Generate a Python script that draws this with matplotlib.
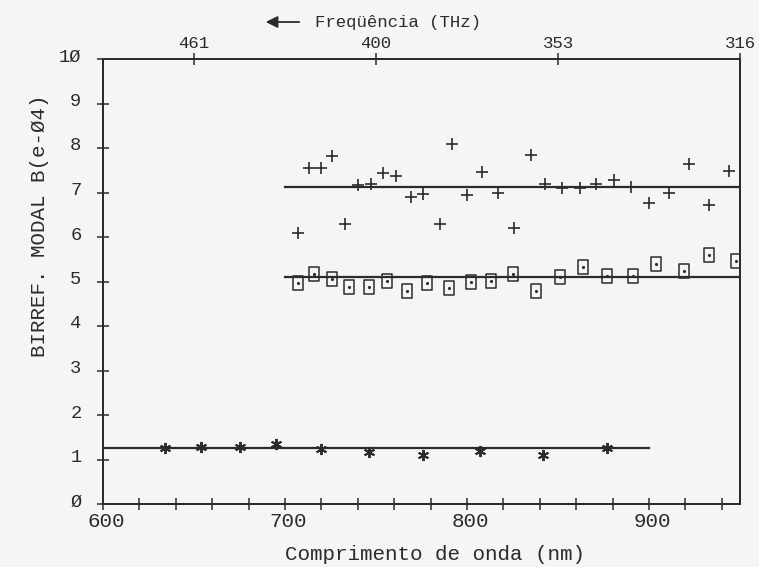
import numpy as np
import matplotlib.pyplot as plt
from matplotlib.path import Path
from matplotlib.patches import FancyArrowPatch
from matplotlib.transforms import ScaledTranslation

plt.rcParams['font.family'] = ['Liberation Mono', 'DejaVu Sans Mono']

# --- data ---
# '+' series
cross_x = [707, 713, 720, 726, 733, 740, 747, 754, 761, 769, 776, 785, 792, 800, 808,
           817, 826, 835, 843, 852, 862, 871, 881, 890, 900, 911, 922, 933, 944]
cross_y = [6.08, 7.54, 7.54, 7.82, 6.29, 7.16, 7.19, 7.44, 7.37, 6.91, 6.96, 6.29, 8.09, 6.94, 7.45,
           6.98, 6.20, 7.85, 7.19, 7.10, 7.10, 7.19, 7.27, 7.13, 6.76, 7.00, 7.64, 6.72, 7.49]

# boxed-dot series
box_x = [707, 716, 726, 735, 746, 756, 767, 778, 790, 802, 813, 825, 838, 851, 864,
         877, 891, 904, 919, 933, 948]
box_y = [4.96, 5.16, 5.06, 4.88, 4.88, 5.01, 4.79, 4.97, 4.85, 5.00, 5.01, 5.16, 4.79, 5.11, 5.33,
         5.12, 5.12, 5.39, 5.24, 5.60, 5.46]

# asterisk series
star_x = [634, 654, 675, 695, 720, 746, 776, 807, 842, 877]
star_y = [1.26, 1.28, 1.29, 1.34, 1.23, 1.16, 1.11, 1.20, 1.11, 1.26]

# mean lines
fit_level = [7.13, 5.09, 1.25]
fit_from = [700, 700, 600]
fit_to = [950, 950, 900]

ytick_vals = list(range(0, 11))
ytick_txt = ['Ø', '1', '2', '3', '4', '5', '6', '7', '8', '9', '1Ø']
xlab_vals = [600, 700, 800, 900]
top_pos = [650, 750, 850, 950]
top_txt = ['461', '400', '353', '316']

ink = '#2b2b2b'
paper = '#f5f5f3'

fig = plt.figure(figsize=(7.59, 5.67), dpi=100, facecolor=paper)
ax = fig.add_axes([103 / 759, 63 / 567, 637 / 759, 445 / 567])
ax.set_facecolor(paper)

# tall box marker
box_marker = Path([(-0.7, -1), (0.7, -1), (0.7, 1), (-0.7, 1), (-0.7, -1)],
                  [Path.MOVETO, Path.LINETO, Path.LINETO, Path.LINETO, Path.CLOSEPOLY])

for lvl, a, b in zip(fit_level, fit_from, fit_to):
    ax.plot([a, b], [lvl, lvl], color=ink, lw=1.6)

ax.plot(cross_x, cross_y, ls='none', marker='+', ms=8, mew=1.2, color=ink)
ax.plot(box_x, box_y, ls='none', marker=box_marker, ms=10, mew=1.1, mfc='none', mec=ink)
ax.plot(box_x, box_y, ls='none', marker='.', ms=2.5, color=ink)
ax.plot(star_x, star_y, ls='none', marker=(6, 2, 0), ms=8, mew=1.4, color=ink)

ax.set_xlim(600, 950)
ax.set_ylim(0, 10)

xt = np.arange(600, 941, 20)
ax.set_xticks(xt)
ax.set_xticklabels([str(v) if v in xlab_vals else '' for v in xt])
ax.set_yticks(ytick_vals)
ax.set_yticklabels(ytick_txt)

ax.tick_params(axis='x', direction='inout', length=8, width=1.1, color=ink,
               labelsize=15, labelcolor=ink, pad=2)
ax.tick_params(axis='y', direction='inout', length=9, width=1.1, color=ink,
               labelsize=13.5, labelcolor=ink, pad=11)
shift_x = ScaledTranslation(3 / 100, 0, fig.dpi_scale_trans)
for lab in ax.get_xticklabels():
    lab.set_transform(lab.get_transform() + shift_x)
shift_y = ScaledTranslation(0, 4 / 100, fig.dpi_scale_trans)
for lab in ax.get_yticklabels():
    lab.set_transform(lab.get_transform() + shift_y)
for sp in ax.spines.values():
    sp.set_color(ink)
    sp.set_linewidth(1.4)

ax2 = ax.twiny()
ax2.set_xlim(ax.get_xlim())
ax2.set_xticks(top_pos)
ax2.set_xticklabels(top_txt)
ax2.tick_params(axis='x', direction='inout', length=8, width=1.1, color=ink,
                labelsize=12.5, labelcolor=ink, pad=1.5)
for sp in ax2.spines.values():
    sp.set_color(ink)
    sp.set_linewidth(1.4)

fig.text(435 / 759, 1 - 555 / 567, 'Comprimento de onda (nm)', ha='center', va='center',
         fontsize=15, color=ink)
fig.text(40 / 759, 1 - 226 / 567, 'BIRREF. MODAL B(e-Ø4)', ha='center', va='center',
         rotation=90, fontsize=15, color=ink)
fig.text(315 / 759, 1 - 22 / 567, 'Freqüência (THz)', ha='left', va='center',
         fontsize=12.5, color=ink)
fig.patches.append(FancyArrowPatch(
    (302 / 759, 1 - 22 / 567), (263 / 759, 1 - 22 / 567), transform=fig.transFigure,
    arrowstyle='-|>,head_length=7,head_width=3.5', color=ink, lw=1.3))

fig.savefig('out.png', dpi=100, facecolor=paper)
